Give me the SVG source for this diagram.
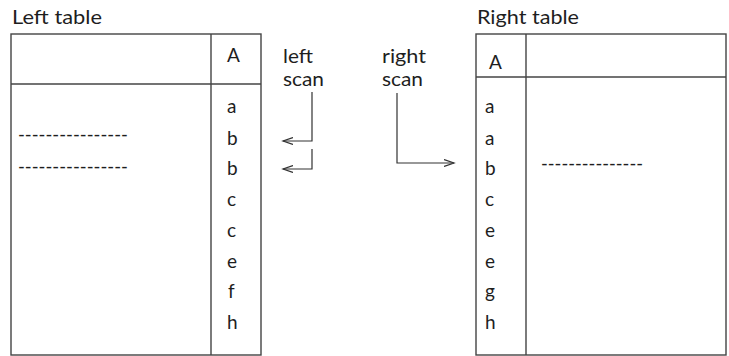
<svg xmlns="http://www.w3.org/2000/svg" width="729" height="356" viewBox="0 0 729 356">
<style>
.t{font-family:Lato,"Open Sans","Liberation Sans",sans-serif;font-size:19px;fill:#1e1e1e}
.ln{stroke:#444;stroke-width:1.4;fill:none}
.ar{stroke:#333;stroke-width:1.2;fill:none}
</style>
<defs>
<marker id="ah" markerWidth="12" markerHeight="8" refX="10" refY="4" orient="auto" markerUnits="userSpaceOnUse">
<path d="M0,0.5 L10,4 L0,7.5" fill="none" stroke="#333" stroke-width="1.2"/>
</marker>
</defs>
<rect width="729" height="356" fill="#fff"/>
<g id="left-table">
<text class="t" x="12" y="24" textLength="90" lengthAdjust="spacingAndGlyphs">Left table</text>
<rect class="ln" x="11" y="34" width="250" height="321"/>
<line class="ln" x1="11" y1="84" x2="261" y2="84"/>
<line class="ln" x1="211" y1="34" x2="211" y2="355"/>
<text class="t" x="227" y="62">A</text>
<g class="t">
<text x="227" y="113">a</text>
<text x="227" y="145">b</text>
<text x="227" y="175">b</text>
<text x="227" y="206">c</text>
<text x="227" y="237">c</text>
<text x="227" y="268">e</text>
<text x="228" y="298">f</text>
<text x="227" y="329">h</text>
</g>
<text class="t" x="18" y="141" textLength="110" lengthAdjust="spacingAndGlyphs">----------------</text>
<text class="t" x="18" y="173" textLength="110" lengthAdjust="spacingAndGlyphs">----------------</text>
</g>
<g id="right-table">
<text class="t" x="477" y="24" textLength="102" lengthAdjust="spacingAndGlyphs">Right table</text>
<rect class="ln" x="476" y="34" width="250" height="321"/>
<line class="ln" x1="476" y1="77" x2="726" y2="77"/>
<line class="ln" x1="526" y1="34" x2="526" y2="355"/>
<text class="t" x="489" y="69">A</text>
<g class="t">
<text x="485" y="113">a</text>
<text x="485" y="145">a</text>
<text x="485" y="175">b</text>
<text x="485" y="206">c</text>
<text x="485" y="237">e</text>
<text x="485" y="268">e</text>
<text x="485" y="298">g</text>
<text x="485" y="329">h</text>
</g>
<text class="t" x="541" y="170" textLength="102" lengthAdjust="spacingAndGlyphs">---------------</text>
</g>
<g id="left-scan">
<text class="t" x="283" y="63" textLength="30" lengthAdjust="spacingAndGlyphs">left</text>
<text class="t" x="283" y="86" textLength="41" lengthAdjust="spacingAndGlyphs">scan</text>
</g>
<g id="right-scan">
<text class="t" x="382" y="63" textLength="44" lengthAdjust="spacingAndGlyphs">right</text>
<text class="t" x="382" y="86" textLength="41" lengthAdjust="spacingAndGlyphs">scan</text>
</g>
<g id="connectors">
<polyline class="ar" points="312,92 312,141 283,141" marker-end="url(#ah)"/>
<polyline class="ar" points="312,149 312,169 283,169" marker-end="url(#ah)"/>
<polyline class="ar" points="397,93 397,163 454,163" marker-end="url(#ah)"/>
</g>
</svg>
